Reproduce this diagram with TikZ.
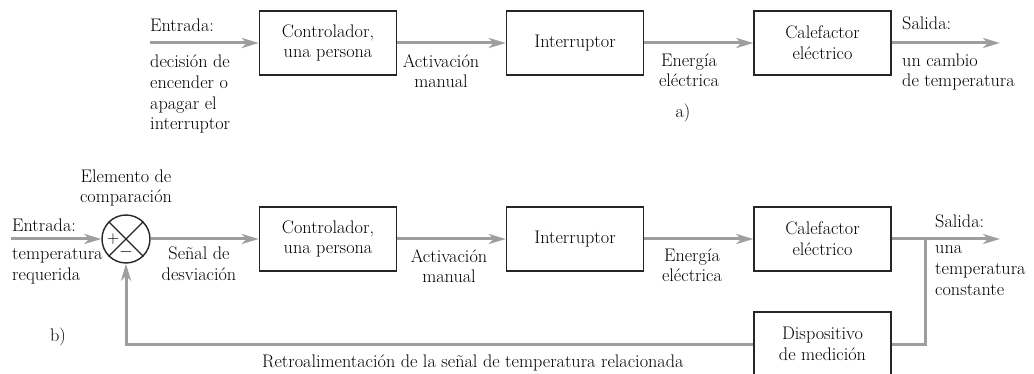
\documentclass[tikz,border=0pt]{standalone}
\usepackage{amsmath}
\usepackage{amssymb}
\usepackage{graphicx,xcolor}
\usepackage{fontspec}
\usepackage{tikz}
\usetikzlibrary{arrows.meta,calc}

\begin{document}
\begin{tikzpicture}[x=1pt, y=-1pt]
	\tikzstyle{every node} = [font=\fontsize{18.2}{20.7}\selectfont, inner sep=0pt, text=black]
	\tikzstyle{block} = [draw=black!85, line width=1.4pt, minimum width=137pt, minimum height=64pt, align=center]
	\tikzstyle{sig} = [draw=black!38, line width=3pt, -{Stealth[length=17pt,width=10pt,inset=5pt]}]
	\tikzstyle{wire} = [draw=black!38, line width=3pt]
	\tikzstyle{txt} = [align=left, anchor=base west]
	\tikzstyle{ctxt} = [align=center, anchor=base]
\useasboundingbox (0, 0) rectangle (1034, 374);
% a) open loop
\coordinate (a0) at (150, 43);
\coordinate (a4) at (1000, 43);
\node[block] (a1) at (328, 43) {Controlador,\\una persona};
\node[block] (a2) at (575, 43) {Interruptor};
\node[block] (a3) at (822.5, 43) {Calefactor\\eléctrico};
	\path[sig] (a0) -- (a1);
	\path[sig] (a1) -- (a2);
	\path[sig] (a2) -- (a3);
	\path[sig] (a3) -- (a4);
% multi-line texts: base = last line
\node[txt] (ta1) at (150, 32) {Entrada:};
\node[txt] (ta2) at (150, 130) {decisión de\\encender o\\apagar el\\interruptor};
\node[ctxt] (ta3) at (441, 88) {Activación\\manual};
\node[ctxt] (ta4) at (689, 87) {Energía\\eléctrica};
\node[txt] (ta5) at (902, 30) {Salida:};
\node[txt] (ta6) at (902, 87) {un cambio\\de temperatura};
\node (ta7) at (683, 113) {a)};
% b) closed loop
\coordinate (b0) at (11, 239);
\coordinate (br) at (925, 239);
\coordinate (b5) at (1000, 239);
\node[circle, draw=black!85, line width=1.4pt, minimum size=48pt] (cmp) at (126, 239) {};
	\path[draw=black!85, line width=1.2pt] (cmp.north west) -- (cmp.south east);
	\path[draw=black!85, line width=1.2pt] (cmp.north east) -- (cmp.south west);
\node[font=\fontsize{17}{17}\selectfont] (plus) at ([xshift=-13pt]cmp.center) {$+$};
\node[font=\fontsize{17}{17}\selectfont] (minus) at ([yshift=-13pt]cmp.center) {$-$};
\node[block] (b1) at (328, 239) {Controlador,\\una persona};
\node[block] (b2) at (575, 239) {Interruptor};
\node[block] (b3) at (822.5, 239) {Calefactor\\eléctrico};
\node[block] (b4) at (822.5, 344) {Dispositivo\\de medición};
	\path[sig] (b0) -- (cmp);
	\path[sig] (cmp) -- (b1);
	\path[sig] (b1) -- (b2);
	\path[sig] (b2) -- (b3);
	\path[wire] (b3) -- (br);
	\path[sig] (br) -- (b5);
	\path[wire] (br) |- (b4.east);
	\path[sig] (b4.west) -| (cmp.south);
\node[ctxt] (tb1) at (126, 203) {Elemento de\\comparación};
\node[txt] (tb2) at (12, 232) {Entrada:};
\node[txt] (tb3) at (12, 280) {temperatura\\requerida};
\node[ctxt] (tb4) at (199, 280) {Señal de\\desviación};
\node[ctxt] (tb5) at (449, 283) {Activación\\manual};
\node[ctxt] (tb6) at (692, 282) {Energía\\eléctrica};
\node[txt] (tb7) at (935, 228) {Salida:};
\node[txt] (tb8) at (935, 295) {una\\temperatura\\constante};
\node[txt] (tb9) at (262, 367) {Retroalimentación de la señal de temperatura relacionada};
\node (tb10) at (58, 337) {b)};
\end{tikzpicture}
\end{document}
